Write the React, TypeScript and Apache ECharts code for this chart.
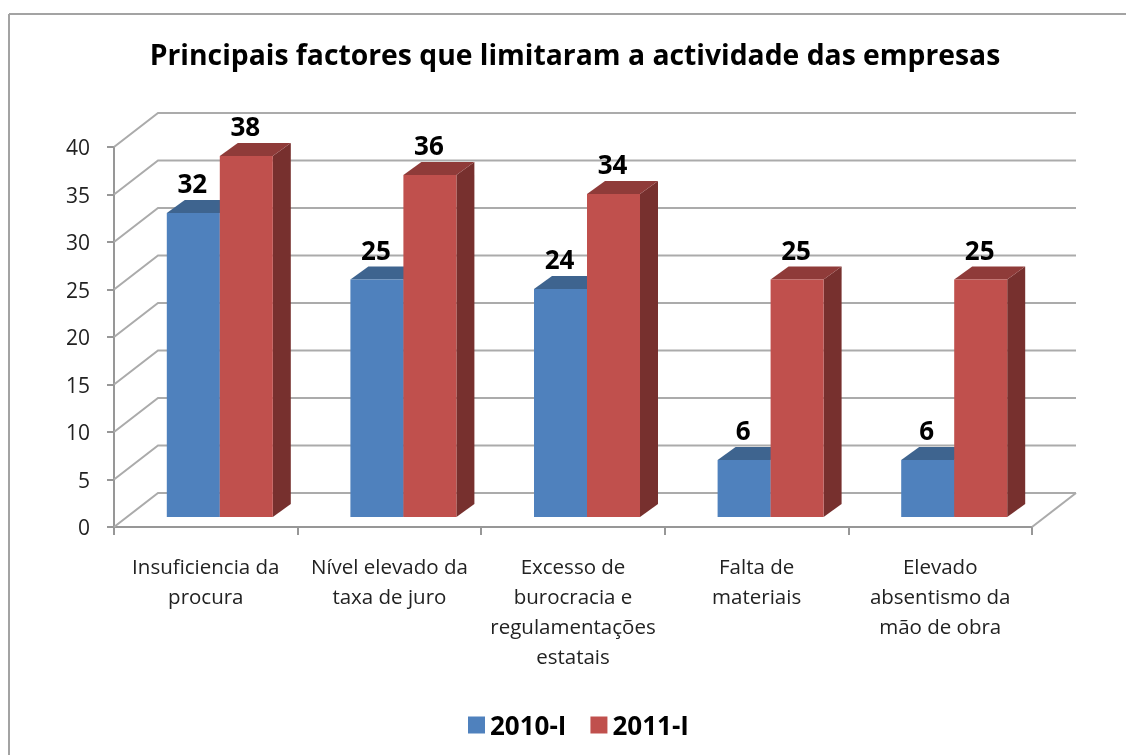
import React, { useEffect, useRef } from "react";
import * as echarts from "echarts";

const categories = [
  "Insuficiencia da\nprocura",
  "Nível elevado da\ntaxa de juro",
  "Excesso de\nburocracia e\nregulamentações\nestatais",
  "Falta de\nmateriais",
  "Elevado\nabsentismo da\nmão de obra",
];
const values2010 = [32, 25, 24, 6, 6];
const values2011 = [38, 36, 34, 25, 25];
const gridValues = [0, 5, 10, 15, 20, 25, 30, 35, 40];
const titleText = "Principais factores que limitaram a actividade das empresas";

const FONT = "'Open Sans', sans-serif";
const WALL_DX = 44;
const WALL_DY = -34;
const BAR_W = 53;
const BAR_OFF_X = 14;
const BAR_OFF_Y = -10;
const DEPTH_X = 18;
const DEPTH_Y = -13;

const wallRender = (params: any, api: any) => {
  const cs = params.coordSys;
  const y = api.coord([0, api.value(1)])[1];
  const style = { fill: "none", stroke: "#ababab", lineWidth: 2 };
  const x0 = cs.x;
  const x1 = cs.x + cs.width;
  const children: any[] = [
    {
      type: "polyline",
      shape: { points: [[x0, y], [x0 + WALL_DX, y + WALL_DY], [x1 + WALL_DX, y + WALL_DY]] },
      style,
    },
  ];
  if (api.value(1) === 0) {
    children.push({
      type: "line",
      shape: { x1, y1: y, x2: x1 + WALL_DX, y2: y + WALL_DY },
      style,
    });
  }
  return { type: "group", children };
};

const barRender = (side: number, front: string, top: string, right: string) => (_p: any, api: any) => {
  const cat = api.value(0);
  const v = api.value(1);
  const [cx, yTop0] = api.coord([cat, v]);
  const yBase0 = api.coord([cat, 0])[1];
  const yTop = yTop0 + BAR_OFF_Y;
  const yBase = yBase0 + BAR_OFF_Y;
  const x0 = cx + BAR_OFF_X + (side === 0 ? -BAR_W : 0);
  const x1 = x0 + BAR_W;
  return {
    type: "group",
    children: [
      {
        type: "polygon",
        shape: { points: [[x1, yBase], [x1 + DEPTH_X, yBase + DEPTH_Y], [x1 + DEPTH_X, yTop + DEPTH_Y], [x1, yTop]] },
        style: { fill: right },
      },
      {
        type: "polygon",
        shape: { points: [[x0, yTop], [x1, yTop], [x1 + DEPTH_X, yTop + DEPTH_Y], [x0 + DEPTH_X, yTop + DEPTH_Y]] },
        style: { fill: top },
      },
      {
        type: "rect",
        shape: { x: x0, y: yTop, width: BAR_W, height: yBase - yTop },
        style: { fill: front },
      },
      {
        type: "text",
        x: (x0 + x1) / 2 - 1,
        y: yTop - 30,
        z2: 50,
        style: {
          text: String(v),
          fill: "#000",
          font: `bold 26px ${FONT}`,
          align: "center",
          verticalAlign: "middle",
        },
      },
    ],
  };
};

export default function App() {
  const ref = useRef<HTMLDivElement>(null);
  useEffect(() => {
    document.body.style.margin = "0";
    document.body.style.background = "#fff";
    const chart = echarts.init(ref.current!, undefined, { renderer: "svg" });
    chart.setOption({
      animation: false,
      backgroundColor: "#ffffff",
      title: {
        text: titleText,
        left: 570,
        top: 35,
        textAlign: "center",
        textStyle: { fontFamily: FONT, fontWeight: "bold", fontSize: 28.3, color: "#000" },
      },
      legend: {
        left: 463,
        top: 707,
        itemWidth: 17,
        itemHeight: 17,
        itemGap: 24,
        icon: "rect",
        data: ["2010-I", "2011-I"],
        selectedMode: false,
        textStyle: { fontFamily: FONT, fontWeight: "bold", fontSize: 26, color: "#000" },
      },
      grid: { left: 114, top: 147, width: 918, height: 380 },
      xAxis: {
        type: "category",
        data: categories,
        axisLine: { show: true, lineStyle: { color: "#979797", width: 2 } },
        axisTick: { show: true, length: 8, lineStyle: { color: "#979797", width: 2 } },
        axisLabel: {
          interval: 0,
          margin: 24,
          fontFamily: FONT,
          fontSize: 20.5,
          lineHeight: 30,
          color: "#222",
        },
      },
      yAxis: {
        type: "value",
        min: 0,
        max: 40,
        interval: 5,
        axisLine: { show: true, lineStyle: { color: "#979797", width: 2 } },
        axisTick: { show: true, length: 7, lineStyle: { color: "#979797", width: 2 } },
        splitLine: { show: false },
        axisLabel: { margin: 24, fontFamily: FONT, fontSize: 21, color: "#222" },
      },
      graphic: [
        { type: "line", shape: { x1: 9, y1: 14, x2: 1126, y2: 14 }, style: { stroke: "#a3a3a3", lineWidth: 2 } },
        { type: "line", shape: { x1: 9, y1: 14, x2: 9, y2: 755 }, style: { stroke: "#a3a3a3", lineWidth: 2 } },
      ],
      series: [
        {
          type: "custom",
          name: "walls",
          renderItem: wallRender,
          clip: false,
          silent: true,
          z: 1,
          data: gridValues.map((v) => [0, v]),
        },
        {
          type: "custom",
          name: "2010-I",
          renderItem: barRender(0, "#4f81bd", "#3e648f", "#3a5f8c"),
          clip: false,
          z: 2,
          itemStyle: { color: "#4f81bd" },
          data: values2010.map((v, i) => [i, v]),
        },
        {
          type: "custom",
          name: "2011-I",
          renderItem: barRender(1, "#c0504d", "#8f3b39", "#77302e"),
          clip: false,
          z: 3,
          itemStyle: { color: "#c0504d" },
          data: values2011.map((v, i) => [i, v]),
        },
      ],
    });
    return () => chart.dispose();
  }, []);
  return <div ref={ref} style={{ position: "absolute", left: 0, top: 0, width: 1126, height: 755, filter: "blur(0.4px)" }} />;
}
